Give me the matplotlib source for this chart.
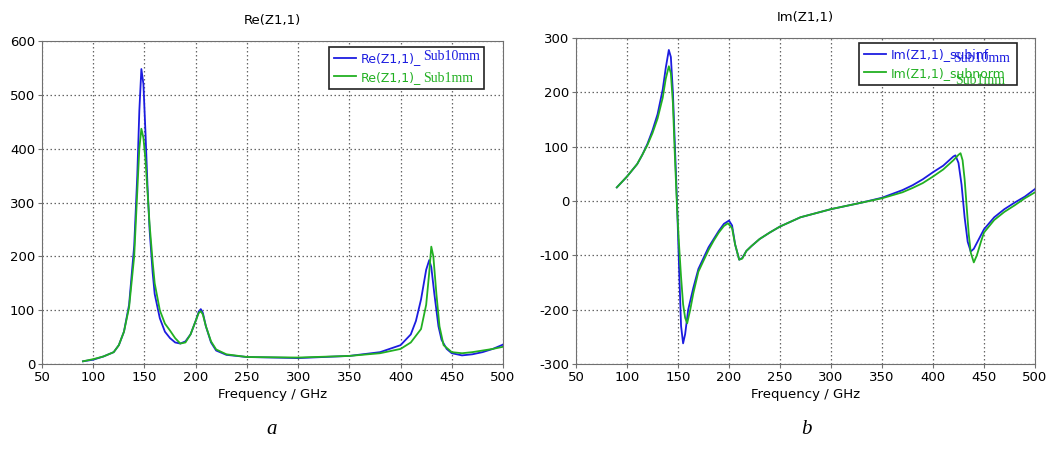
import numpy as np
import matplotlib
matplotlib.use("Agg")
import matplotlib.pyplot as plt
from matplotlib.lines import Line2D

# --- datos (frecuencia en GHz)
f_re_blue = [90, 100, 110, 120, 125, 130, 135, 140, 143, 145, 147, 149, 151, 153, 155, 158, 160,
             165, 170, 175, 180, 185, 190, 195, 200, 203, 205, 207, 210, 215, 220, 230, 250, 300,
             350, 380, 400, 410, 415, 420, 425, 428, 430, 433, 437, 440, 445, 450, 460, 470, 480,
             490, 500]
re_blue = [5, 8, 14, 22, 35, 60, 110, 220, 350, 470, 548, 520, 430, 330, 250, 170, 130,
           85, 60, 48, 40, 38, 42, 55, 80, 97, 102, 95, 70, 40, 25, 17, 13, 11,
           15, 22, 35, 55, 80, 120, 175, 193, 180, 130, 70, 45, 28, 20, 16, 18, 22,
           28, 36]

f_re_green = [90, 100, 110, 120, 125, 130, 135, 140, 143, 145, 147, 149, 151, 153, 155, 158, 160,
              165, 170, 175, 180, 185, 190, 195, 200, 203, 205, 207, 210, 215, 220, 230, 250, 300,
              350, 380, 400, 410, 420, 425, 428, 430, 432, 435, 438, 442, 450, 460, 470, 480,
              490, 500]
re_green = [5, 9, 14, 22, 35, 60, 105, 200, 320, 400, 437, 420, 380, 320, 260, 190, 150,
            100, 75, 62, 48, 38, 40, 55, 80, 95, 98, 92, 70, 42, 27, 18, 13, 12,
            15, 20, 28, 40, 65, 110, 170, 218, 200, 130, 70, 35, 22, 20, 22, 25,
            28, 32]

f_im_blue = [90, 100, 110, 115, 120, 125, 130, 135, 138, 141, 143, 145, 147, 149, 151, 153, 155,
             157, 160, 165, 170, 175, 180, 185, 190, 195, 200, 203, 206, 210, 213, 217, 222, 230,
             240, 250, 270, 300, 330, 350, 370, 380, 390, 400, 410, 420, 422, 425, 428, 431, 434,
             437, 440, 445, 450, 460, 470, 480, 490, 500]
im_blue = [25, 45, 68, 85, 105, 130, 160, 205, 245, 278, 265, 200, 100, 0, -120, -230, -262,
           -245, -200, -160, -125, -105, -85, -70, -55, -42, -36, -45, -80, -108, -105, -92, -83, -70,
           -58, -47, -30, -15, -3, 6, 20, 29, 40, 53, 65, 82, 84, 70, 30, -30, -75,
           -93, -88, -70, -52, -30, -15, -3, 8, 22]

f_im_green = [90, 100, 110, 115, 120, 125, 130, 135, 138, 141, 143, 145, 147, 149, 151, 153, 155,
              157, 159, 162, 165, 170, 175, 180, 185, 190, 195, 199, 203, 206, 210, 213, 217, 222,
              230, 240, 250, 270, 300, 330, 350, 370, 380, 390, 400, 410, 420, 425, 427, 429, 431,
              433, 435, 437, 440, 443, 447, 450, 460, 470, 480, 490, 500]
im_green = [25, 45, 68, 85, 103, 125, 152, 190, 225, 248, 235, 180, 80, -10, -80, -140, -190,
            -215, -225, -200, -170, -130, -110, -90, -73, -58, -46, -41, -50, -80, -108, -106, -92, -83,
            -70, -58, -47, -30, -15, -3, 5, 16, 24, 33, 45, 58, 75, 85, 88, 75, 40,
            -10, -60, -95, -113, -100, -75, -58, -35, -20, -8, 5, 16]

x_ticks = list(range(50, 501, 50))
re_ticks = list(range(0, 601, 100))
im_ticks = list(range(-300, 301, 100))

BLUE = '#1c1ce0'
GREEN = '#22b022'
GRIS = '#707070'

plt.rcParams['font.family'] = ['DejaVu Sans']
plt.rcParams['axes.unicode_minus'] = False

fig = plt.figure(figsize=(10.49, 4.54), dpi=100)
W, H = 1049.0, 454.0


def px_axes(x0, y0, x1, y1):
    return fig.add_axes([x0 / W, 1 - y1 / H, (x1 - x0) / W, (y1 - y0) / H])


def style(ax, yticks):
    ax.set_xlim(50, 500)
    ax.set_xticks(x_ticks)
    ax.set_ylim(yticks[0], yticks[-1])
    ax.set_yticks(yticks)
    ax.grid(True, linestyle=(0, (1.2, 2)), color='#666666', linewidth=0.9)
    for s in ax.spines.values():
        s.set_color(GRIS)
    ax.tick_params(length=3, color=GRIS, labelsize=9.5, pad=2)
    ax.set_xlabel("Frequency / GHz", fontsize=9.5, labelpad=3)


ax1 = px_axes(42, 41, 503, 364)
ax1.plot(f_re_blue, re_blue, color=BLUE, lw=1.3)
ax1.plot(f_re_green, re_green, color=GREEN, lw=1.3)
style(ax1, re_ticks)
ax1.set_title("Re(Z1,1)", fontsize=9.5, pad=12)

ax2 = px_axes(576, 38, 1035, 364)
ax2.plot(f_im_blue, im_blue, color=BLUE, lw=1.3)
ax2.plot(f_im_green, im_green, color=GREEN, lw=1.3)
style(ax2, im_ticks)
ax2.set_title("Im(Z1,1)", fontsize=9.5, pad=12)


def leyenda(ax, labels, box):
    x0, y0, x1, y1 = box
    handles = [Line2D([], [], color=BLUE, lw=1.3), Line2D([], [], color=GREEN, lw=1.3)]
    leg = ax.legend(handles, labels, loc='upper left', mode='expand',
                    bbox_to_anchor=(x0 / W, 1 - y1 / H, (x1 - x0) / W, (y1 - y0) / H),
                    bbox_transform=fig.transFigure, fancybox=False, framealpha=1,
                    edgecolor='#222222', fontsize=9, handlelength=1.75,
                    handletextpad=0.35, borderpad=0.4, borderaxespad=0,
                    labelspacing=0.45)
    leg.get_frame().set_linewidth(1.2)
    leg.get_texts()[0].set_color(BLUE)
    leg.get_texts()[1].set_color(GREEN)
    return leg


leyenda(ax1, ["Re(Z1,1)_", "Re(Z1,1)_"], (329, 47, 484, 92))
leyenda(ax2, ["Im(Z1,1)_subinf", "Im(Z1,1)_subnorm"], (859, 43, 1017, 87))

# textos superpuestos (serif) de la figura original
serif = dict(family='Liberation Serif', fontsize=10, va='center', ha='left')
fig.text(423 / W, 1 - 57 / H, "Sub10mm", color=BLUE, **serif)
fig.text(423 / W, 1 - 78 / H, "Sub1mm", color=GREEN, **serif)
fig.text(953 / W, 1 - 59 / H, "Sub10mm", color=BLUE, **serif)
fig.text(955 / W, 1 - 80 / H, "Sub1mm", color=GREEN, **serif)

fig.text(272 / W, 1 - 430 / H, "a", family='Liberation Serif', style='italic',
         fontsize=15, ha='center', va='center')
fig.text(806 / W, 1 - 430 / H, "b", family='Liberation Serif', style='italic',
         fontsize=15, ha='center', va='center')

fig.savefig("out.png", dpi=100)
